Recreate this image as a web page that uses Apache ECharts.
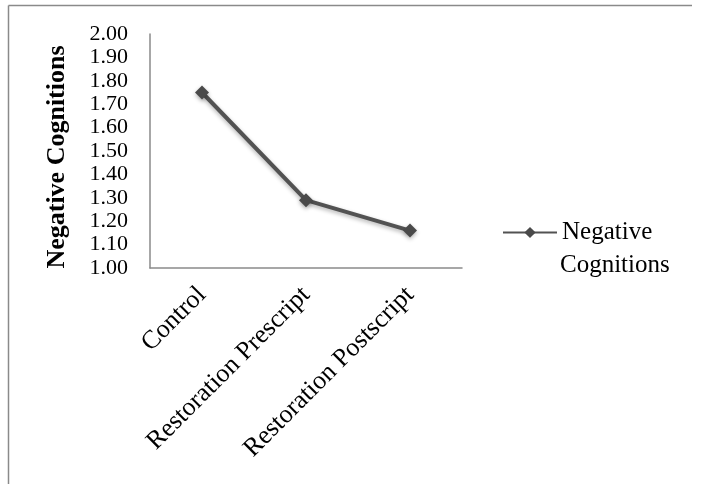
<!DOCTYPE html>
<html>
<head>
<meta charset="utf-8">
<script src="https://cdn.jsdelivr.net/npm/echarts@6/dist/echarts.min.js"></script>
<style>html,body{margin:0;padding:0;background:#fff}#c{width:701px;height:484px}</style>
</head>
<body>
<div id="c"></div>
<script>
const categories = ['Control', 'Restoration Prescript', 'Restoration Postscript'];
const seriesName = 'Negative Cognitions';
const values = [1.75, 1.29, 1.16];
const yMin = 1.0, yMax = 2.0, yStep = 0.1;

const chart = echarts.init(document.getElementById('c'), null, {renderer: 'canvas'});
const font = 'Liberation Serif, Times New Roman, serif';
const fs = 25;
chart.setOption({
  animation: false,
  backgroundColor: '#fff',
  graphic: [
    {type: 'line', shape: {x1: 8.5, y1: 5.5, x2: 692, y2: 5.5}, style: {stroke: '#8a8a8a', lineWidth: 1.5}},
    {type: 'line', shape: {x1: 8.5, y1: 5.5, x2: 8.5, y2: 484}, style: {stroke: '#8a8a8a', lineWidth: 1.5}},
    {type: 'text', left: 560, top: 253, style: {text: 'Cognitions', font: fs + 'px ' + font, fill: '#000'}}
  ],
  grid: {left: 150, top: 34, right: 239, bottom: 216, containLabel: false},
  legend: {
    left: 502, top: 220, padding: 0,
    itemWidth: 54, itemHeight: 14, itemGap: 0,
    formatter: function () { return 'Negative'; },
    textStyle: {fontFamily: font, fontSize: fs, color: '#000'},
    data: [seriesName]
  },
  xAxis: {
    type: 'category',
    data: categories,
    boundaryGap: true,
    axisLine: {lineStyle: {color: '#8a8a8a', width: 1.5}},
    axisTick: {show: false},
    axisLabel: {rotate: 45, margin: 23, fontFamily: font, fontSize: 26, color: '#000', interval: 0}
  },
  yAxis: {
    type: 'value',
    min: yMin, max: yMax, interval: yStep,
    name: 'Negative Cognitions',
    nameLocation: 'middle',
    nameGap: 80,
    nameTextStyle: {fontFamily: font, fontSize: 26, fontWeight: 'bold', color: '#000', padding: [0, 12, 0, 0]},
    splitLine: {show: false},
    axisLine: {show: true, lineStyle: {color: '#8a8a8a', width: 1.5}},
    axisTick: {show: false},
    axisLabel: {
      margin: 22, color: '#000', fontFamily: font, fontSize: 22,
      showMinLabel: true, showMaxLabel: true, hideOverlap: false,
      formatter: v => v.toFixed(2)
    }
  },
  series: [{
    name: seriesName,
    type: 'line',
    data: values,
    symbol: 'diamond',
    symbolSize: 14,
    lineStyle: {color: '#525252', width: 4, shadowColor: 'rgba(0,0,0,0.3)', shadowBlur: 4, shadowOffsetY: 2},
    itemStyle: {color: '#4a4a4a', shadowColor: 'rgba(0,0,0,0.3)', shadowBlur: 4, shadowOffsetY: 2}
  }]
});
</script>
</body>
</html>
